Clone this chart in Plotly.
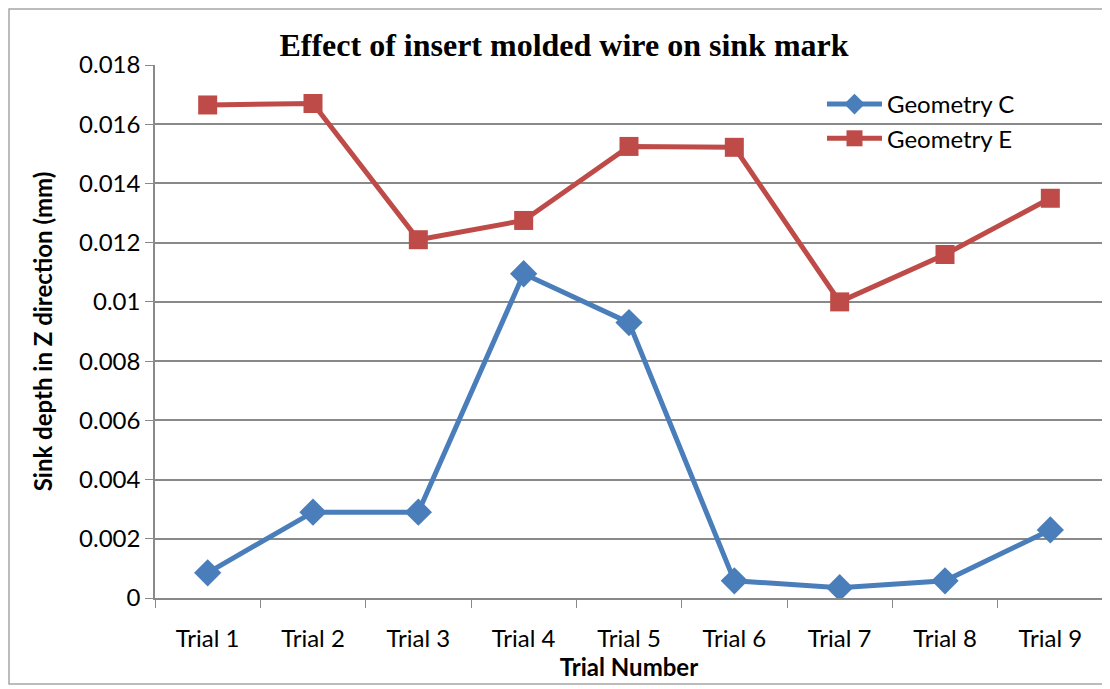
import plotly.graph_objects as go

trials = ["Trial 1", "Trial 2", "Trial 3", "Trial 4", "Trial 5",
          "Trial 6", "Trial 7", "Trial 8", "Trial 9"]
geom_c = [0.00085, 0.0029, 0.0029, 0.01095, 0.0093, 0.00058, 0.00035, 0.00058, 0.0023]
geom_e = [0.01665, 0.0167, 0.0121, 0.01275, 0.01525, 0.01522, 0.0100, 0.0116, 0.0135]

BLUE = "#4A7EBB"
RED = "#BE4B48"
GRID = "#898989"
FONT = "Lato, Noto Sans, sans-serif"

fig = go.Figure()
fig.add_trace(go.Scatter(
    x=trials, y=geom_c, name="Geometry C", mode="lines+markers",
    line=dict(color=BLUE, width=5),
    marker=dict(symbol="diamond", size=21, color=BLUE),
))
fig.add_trace(go.Scatter(
    x=trials, y=geom_e, name="Geometry E", mode="lines+markers",
    line=dict(color=RED, width=5),
    marker=dict(symbol="square", size=19, color=RED),
))

# page body has an 8px margin, so the figure is shifted by 8px
OFF = 8
W, H = 1110 - OFF, 689 - OFF
L, R, T, B = 155 - OFF, 7, 65 - OFF, 91
pw, ph = W - L - R, H - T - B

fig.update_layout(
    width=W, height=H,
    paper_bgcolor="white", plot_bgcolor="white",
    margin=dict(l=L, r=R, t=T, b=B),
    font=dict(family=FONT, size=24, color="black"),
    title=dict(text="<b>Effect of insert molded wire on sink mark</b>",
               font=dict(family="Liberation Serif, Times New Roman, serif", size=32),
               x=(564 - OFF) / W, xanchor="center", y=1 - (45 - OFF) / H, yanchor="middle"),
    legend=dict(x=(822 - 155) / pw, y=(598 - 82) / ph, xanchor="left", yanchor="top",
                bgcolor="rgba(0,0,0,0)", font=dict(size=24), itemwidth=55,
                tracegroupgap=0),
    showlegend=True,
    xaxis=dict(
        type="category", range=[-0.5, 8.5], showgrid=False,
        showline=True, linecolor=GRID, linewidth=1.5,
        ticks="outside", tickson="boundaries", ticklen=8, tickcolor=GRID,
        ticklabelstandoff=18,
        tickfont=dict(size=24),
        title=dict(text="<b>Trial Number</b>", font=dict(size=24), standoff=0),
    ),
    yaxis=dict(
        range=[0, 0.018], dtick=0.002, showgrid=True, gridcolor=GRID, gridwidth=1.5,
        showline=True, linecolor=GRID, linewidth=1.5, zeroline=False,
        ticks="outside", ticklen=8, tickcolor=GRID,
        tickfont=dict(size=24),
        title=dict(text="<b>Sink depth in Z direction (mm)</b>", font=dict(size=24), standoff=20),
    ),
)

# outer chart border
fig.add_shape(type="rect", xref="paper", yref="paper",
              x0=(1 - L) / pw, x1=(1100 - L) / pw,
              y0=(H - B - (H - 5)) / ph, y1=(H - B - 1) / ph,
              line=dict(color="#A6A6A6", width=1.5), fillcolor="rgba(0,0,0,0)",
              layer="below")

fig.write_html("out.html")
